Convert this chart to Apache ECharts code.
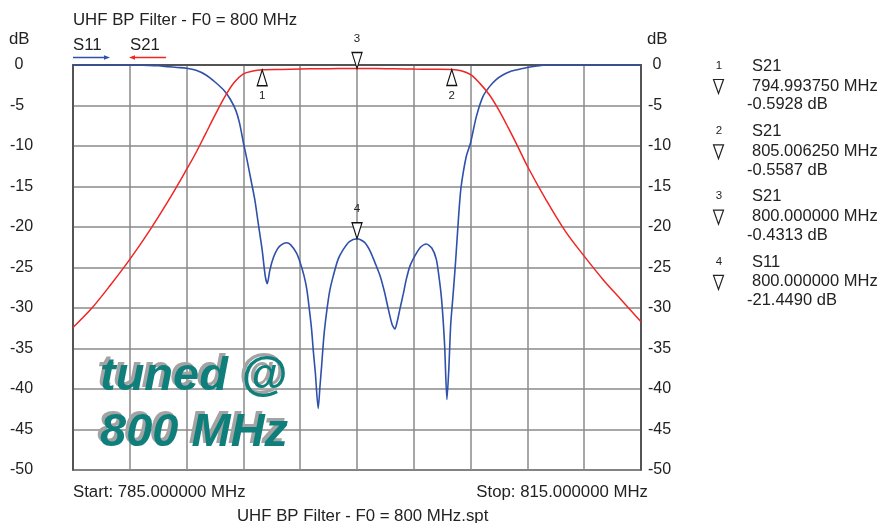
<!DOCTYPE html>
<html><head><meta charset="utf-8">
<script src="https://cdn.jsdelivr.net/npm/echarts@6/dist/echarts.min.js"></script>
<style>html,body{margin:0;padding:0;background:#fff}#c{width:882px;height:523px}</style>
</head><body><div id="c"></div>
<script>
// ---- data ----
const startMHz = 785, stopMHz = 815, stepMHz = 3;
const yMin = -50, yMax = 0, yStep = 5;

const s21Freq = [785,786,787,788,789,790,791,791.5,792,792.5,793,793.5,794,794.5,795,796,797,798,799,800,801,802,803,804,805,805.5,806,806.5,807,807.5,808,808.5,809,810,811,812,813,814,815];
const s21Db   = [-32.4,-30.0,-27.1,-24.0,-20.6,-16.9,-12.9,-10.8,-8.5,-6.2,-4.0,-2.2,-1.1,-0.75,-0.6,-0.55,-0.5,-0.46,-0.44,-0.43,-0.44,-0.46,-0.5,-0.53,-0.56,-0.7,-1.2,-2.3,-3.7,-5.6,-7.8,-10.1,-12.5,-16.7,-20.5,-23.6,-26.5,-29.1,-31.7];

const s11Freq = [785,786,787,788,789,789.5,790,790.5,791,791.5,792,792.5,793,793.3,793.6,793.8,794,794.2,794.4,794.6,794.8,795,795.15,795.26,795.4,795.58,795.8,796,796.28,796.5,796.8,797,797.2,797.35,797.5,797.6,797.7,797.8,797.95,798.05,798.13,798.25,798.39,798.55,798.74,799,799.27,799.6,800,800.4,800.7,801,801.23,801.45,801.66,801.85,802,802.13,802.26,802.45,802.6,802.8,803.05,803.35,803.66,803.95,804.19,804.35,804.45,804.55,804.63,804.75,804.85,804.95,805.07,805.2,805.3,805.4,805.5,805.77,806,806.3,806.65,807,807.35,807.7,808.1,808.58,809,809.5,810,811,812,813,814,815];
const s11Db   = [0,0,0,0,-0.05,-0.1,-0.2,-0.3,-0.4,-0.65,-1.2,-2.1,-3.2,-4.2,-5.6,-7.2,-9.6,-11.8,-14.2,-16.6,-19.8,-23.0,-26.0,-27.0,-25.3,-23.8,-22.7,-22.2,-21.95,-22.2,-23.2,-24.4,-26.0,-27.7,-30.5,-32.6,-35.5,-38.0,-42.4,-39.5,-37.2,-33.5,-30.6,-28.0,-26.1,-24.0,-22.8,-21.8,-21.45,-21.9,-23.0,-24.7,-26.1,-28.0,-30.2,-32.0,-32.6,-31.6,-30.2,-28.2,-26.5,-24.8,-23.6,-22.5,-22.1,-22.6,-24.0,-26.5,-28.5,-31.5,-34.7,-41.3,-37.5,-32.0,-28.5,-24.5,-21.0,-17.6,-15.0,-11.3,-9.6,-6.4,-3.9,-2.67,-1.8,-1.23,-0.8,-0.53,-0.3,-0.12,0,0,0,0,0,0];

const markerIds    = [1, 2, 3, 4];
const markerTrace  = ['S21', 'S21', 'S21', 'S11'];
const markerFreq   = [794.99375, 805.00625, 800.0, 800.0];
const markerDb     = [-0.5928, -0.5587, -0.4313, -21.4490];
const markerFreqTx = ['794.993750 MHz', '805.006250 MHz', '800.000000 MHz', '800.000000 MHz'];
const markerDbTx   = ['-0.5928 dB', '-0.5587 dB', '-0.4313 dB', '-21.4490 dB'];

const titleText = 'UHF BP Filter - F0 = 800 MHz';
const fileText  = 'UHF BP Filter - F0 = 800 MHz.spt';
const startText = 'Start: 785.000000 MHz';
const stopText  = 'Stop: 815.000000 MHz';
const stampLines = ['tuned @', '800 MHz'];

// ---- chart ----
const FONT = '"Liberation Sans", Arial, sans-serif';
const BLUE = '#2f50ab', RED = '#f02525', TXT = '#222';
const toXY = (fs, ds) => fs.map((f, i) => [f - startMHz, ds[i]]);

const upSym = 'path://M5,0 L10,16 L0,16 Z';
const dnSym = 'path://M0,0 L10,0 L5,16 Z';
function mp(i) {
  const up = i < 2;
  return {
    coord: [markerFreq[i] - startMHz, markerDb[i]],
    symbol: up ? upSym : dnSym,
    symbolSize: [10, 16],
    symbolOffset: [0, up ? 8 : -8],
    itemStyle: { color: '#fff', borderColor: '#111', borderWidth: 1.3 },
    label: { show: true, formatter: String(markerIds[i]), position: up ? 'bottom' : 'top',
             distance: up ? 3 : 7, fontSize: 11.5, color: TXT, fontFamily: FONT }
  };
}

function txt(t, x, y, opt) {
  opt = opt || {};
  return { type: 'text', x: x, y: y, z: opt.z || 10, silent: true,
    style: { text: t, font: opt.font || ('16.8px ' + FONT), fill: opt.fill || TXT,
      textAlign: opt.align || 'left', textVerticalAlign: 'middle',
      align: opt.align || 'left', verticalAlign: 'middle' } };
}

const graphics = [];
graphics.push(txt(titleText, 73, 20));
graphics.push(txt('dB', 9, 39));
graphics.push(txt('dB', 647, 39));
graphics.push(txt('S11', 73, 45));
graphics.push(txt('S21', 130, 45));
graphics.push({ type: 'line', shape: { x1: 73, y1: 57.5, x2: 106, y2: 57.5 }, style: { stroke: BLUE, lineWidth: 1.6 } });
graphics.push({ type: 'polygon', shape: { points: [[104, 55.2], [110, 57.5], [104, 59.8]] }, style: { fill: BLUE } });
graphics.push({ type: 'line', shape: { x1: 133, y1: 57.5, x2: 166, y2: 57.5 }, style: { stroke: RED, lineWidth: 1.6 } });
graphics.push({ type: 'polygon', shape: { points: [[135, 55.2], [129, 57.5], [135, 59.8]] }, style: { fill: RED } });
graphics.push(txt(startText, 73, 492));
graphics.push(txt(stopText, 648, 492, { align: 'right' }));
graphics.push(txt(fileText, 237, 516));

// stamp
const stampFont = 'italic bold 47px ' + FONT;
[[377, stampLines[0]], [433, stampLines[1]]].forEach(([y, t]) => {
  graphics.push(txt(t, 97, y - 2.5, { font: stampFont, fill: '#a3a3a3', z: 5 }));
  graphics.push(txt(t, 100, y, { font: stampFont, fill: '#0e7f7b', z: 6 }));
});

// marker readout block
for (let i = 0; i < markerIds.length; i++) {
  const base = 66.2 + 65.3 * i;
  graphics.push(txt(String(markerIds[i]), 719, base - 0.7, { font: '11.5px ' + FONT, align: 'center' }));
  graphics.push({ type: 'polygon', silent: true,
    shape: { points: [[713.5, base + 13.3], [723.5, base + 13.3], [718.5, base + 27.3]] },
    style: { fill: 'none', stroke: TXT, lineWidth: 1.2 } });
  graphics.push(txt(markerTrace[i], 752, base, { font: '16.5px ' + FONT }));
  graphics.push(txt(markerFreqTx[i], 752, base + 19.8, { font: '16.5px ' + FONT }));
  graphics.push(txt(markerDbTx[i], 747, base + 38.5, { font: '16.5px ' + FONT }));
}

const yLabel = v => (v === 0 ? ' 0' : String(v));
const axisCommon = {
  type: 'value', min: yMin, max: yMax, interval: yStep,
  axisTick: { show: false },
};

const option = {
  animation: false,
  backgroundColor: '#fff',
  grid: { left: 73, right: 241, top: 65, bottom: 53, show: true, borderColor: '#444', borderWidth: 1.5, backgroundColor: 'transparent' },
  xAxis: {
    type: 'value', min: 0, max: stopMHz - startMHz, interval: stepMHz,
    axisLabel: { show: false }, axisTick: { show: false },
    axisLine: { show: true, lineStyle: { color: '#444', width: 1.5 } },
    splitLine: { show: true, lineStyle: { color: '#8a8a8a', width: 1.5 } }
  },
  yAxis: [
    Object.assign({}, axisCommon, {
      position: 'left',
      axisLine: { show: true, lineStyle: { color: '#444', width: 1.5 } },
      axisLabel: { formatter: yLabel, align: 'left', margin: 63, fontSize: 16, color: TXT, fontFamily: FONT, padding: [2, 0, 0, 0] },
      splitLine: { show: true, lineStyle: { color: '#8a8a8a', width: 1.5 } }
    }),
    Object.assign({}, axisCommon, {
      position: 'right',
      axisLine: { show: true, lineStyle: { color: '#444', width: 1.5 } },
      axisLabel: { formatter: yLabel, align: 'left', margin: 7, fontSize: 16, color: TXT, fontFamily: FONT, padding: [2, 0, 0, 0] },
      splitLine: { show: false }
    })
  ],
  series: [
    { name: 'S11', type: 'line', data: toXY(s11Freq, s11Db), showSymbol: false, z: 3,
      smooth: 0.25,
      lineStyle: { color: BLUE, width: 1.6 }, itemStyle: { color: BLUE },
      markPoint: { data: [mp(3)], z: 8 } },
    { name: 'S21', type: 'line', data: toXY(s21Freq, s21Db), showSymbol: false, z: 4,
      smooth: 0.35,
      lineStyle: { color: RED, width: 1.5 }, itemStyle: { color: RED },
      markPoint: { data: [mp(0), mp(1), mp(2)], z: 8 } }
  ],
  graphic: graphics
};

const chart = echarts.init(document.getElementById('c'), null, { renderer: 'canvas' });
chart.setOption(option);
</script>
</body></html>
